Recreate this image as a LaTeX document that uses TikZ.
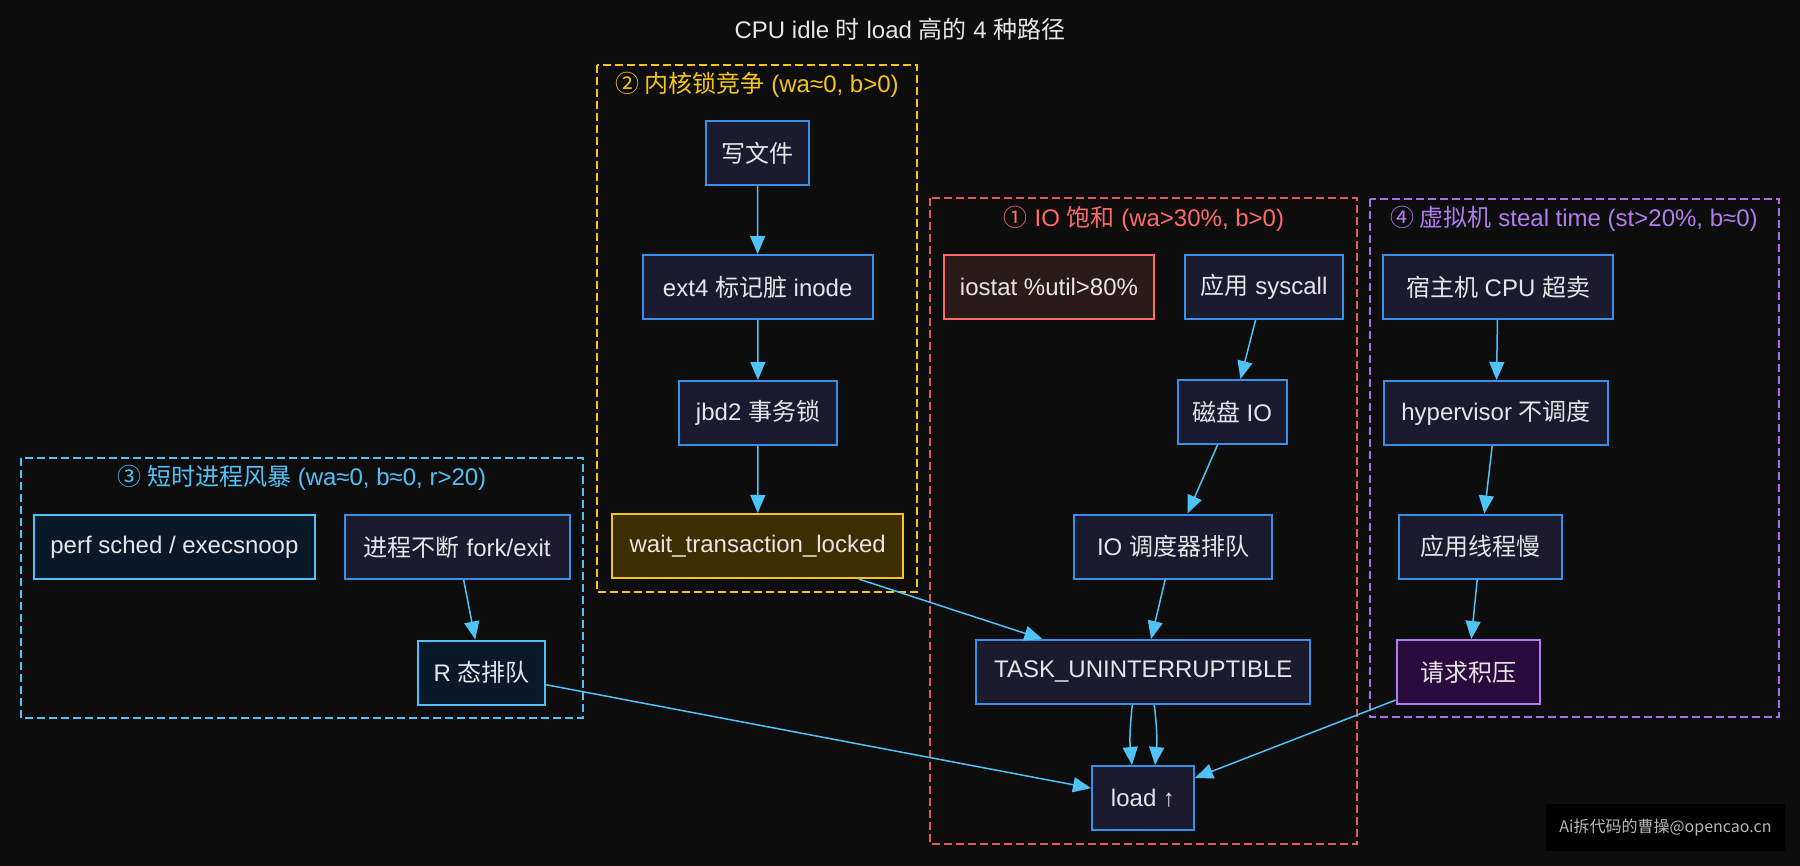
\documentclass[tikz,border=0pt]{standalone}
\usepackage{fontspec}
\setmainfont{Liberation Sans}
\newfontfamily\cjk{Noto Sans CJK SC}
\usetikzlibrary{arrows.meta,calc}
\definecolor{bgc}{HTML}{0D0D0D}
\definecolor{txt}{HTML}{E6E6E6}
\definecolor{nfill}{HTML}{1A1B2E}
\definecolor{nblue}{HTML}{3890EA}
\definecolor{edgec}{HTML}{4FC3F7}
\definecolor{yel}{HTML}{F5C518}
\definecolor{yfill}{HTML}{3D2E00}
\definecolor{redc}{HTML}{E85A5A}
\definecolor{redt}{HTML}{FF6B6B}
\definecolor{rfill}{HTML}{2A1A1A}
\definecolor{purc}{HTML}{A66EE8}
\definecolor{purt}{HTML}{B07CF0}
\definecolor{pfill}{HTML}{2B0A3D}
\definecolor{cyc}{HTML}{4FC3F7}
\definecolor{cfill}{HTML}{0A1929}
\begin{document}
\begin{tikzpicture}[x=0.5pt,y=-0.5pt,
  every node/.style={font=\fontsize{12pt}{14pt}\selectfont, text=txt},
  box/.style={draw=nblue, fill=nfill, line width=1pt, minimum height=32pt, inner sep=0pt},
  ybox/.style={box, draw=yel, fill=yfill},
  rbox/.style={box, draw=redt, fill=rfill},
  pbox/.style={box, draw=purt, fill=pfill},
  cbox/.style={box, draw=cyc, fill=cfill},
  clus/.style={dashed, dash pattern=on 4pt off 2pt, line width=0.7pt},
  arr/.style={draw=edgec, line width=0.75pt, -{Triangle[length=9pt,width=7.5pt]}},
]
\fill[bgc] (0,0) rectangle (1800,866);
\useasboundingbox (0,0) rectangle (1800,866);

\node (title) at (900,29) {CPU idle {\cjk 时} load {\cjk 高的} 4 {\cjk 种路径}};

% clusters
\draw[clus, draw=yel] (597,65) rectangle (917,592);
\node[text=yel] (l2) at (757,85) {{\cjk ② 内核锁竞争} (wa≈0, b>0)};
\draw[clus, draw=redc] (930,198) rectangle (1357,844);
\node[text=redt] (l1) at (1144,219) {{\cjk ①} IO {\cjk 饱和} (wa>30\%, b>0)};
\draw[clus, draw=purc] (1370,199) rectangle (1779,717);
\node[text=purt] (l4) at (1574,219) {{\cjk ④ 虚拟机} steal time (st>20\%, b≈0)};
\draw[clus, draw=cyc] (21,458) rectangle (583,718);
\node[text=cyc] (l3) at (302,478) {{\cjk ③ 短时进程风暴} (wa≈0, b≈0, r>20)};

% cluster 2
\node[box, minimum width=51.5pt] (wf) at (757.5,153) {\cjk 写文件};
\node[box, minimum width=115pt] (ext) at (757.7,287) {ext4 {\cjk 标记脏} inode};
\node[box, minimum width=79pt] (jbd) at (758,413) {jbd2 {\cjk 事务锁}};
\node[ybox, minimum width=145.5pt] (wait) at (757.7,546) {wait\_transaction\_locked};

% cluster 1
\node[rbox, minimum width=105pt] (iostat) at (1049,287) {iostat \%util>80\%};
\node[box, minimum width=79pt] (sys) at (1264,287) {{\cjk 应用} syscall};
\node[box, minimum width=54.5pt] (disk) at (1232,412) {{\cjk 磁盘} IO};
\node[box, minimum width=99pt] (iosch) at (1173,546.5) {IO {\cjk 调度器排队}};
\node[box, minimum width=167pt] (task) at (1143.3,672) {TASK\_UNINTERRUPTIBLE};
\node[box, minimum width=51pt] (load) at (1143,798) {load ↑};

% cluster 4
\node[box, minimum width=115pt] (host) at (1498,287) {{\cjk 宿主机} CPU {\cjk 超卖}};
\node[box, minimum width=112pt] (hyp) at (1496,413) {hypervisor {\cjk 不调度}};
\node[box, minimum width=81.5pt] (slow) at (1480.5,546.5) {\cjk 应用线程慢};
\node[pbox, minimum width=71.5pt] (req) at (1468,672) {\cjk 请求积压};

% cluster 3
\node[cbox, minimum width=140.5pt] (perf) at (174.4,547) {perf sched / execsnoop};
\node[box, minimum width=112.5pt] (fork) at (457.3,547) {{\cjk 进程不断} fork/exit};
\node[cbox, minimum width=63.5pt] (rq) at (481.6,672.5) {R {\cjk 态排队}};

% watermark
\node[fill=black, minimum width=119.5pt, minimum height=23.5pt, inner sep=0pt,
      font=\cjk\fontsize{8pt}{10pt}\selectfont, text=white!72!black] (wm) at (1665.5,827.5) {Ai拆代码的曹操@opencao.cn};

% edges
\draw[arr] (wf) -- (ext);
\draw[arr] (ext) -- (jbd);
\draw[arr] (jbd) -- (wait);
\draw[arr] (wait) -- (task);
\draw[arr] (sys) -- (disk);
\draw[arr] (disk) -- (iosch);
\draw[arr] (iosch) -- (task);
\draw[arr] ($(task.south)+(-11,0)$) to[bend right=6] ($(load.north)+(-11,0)$);
\draw[arr] ($(task.south)+(11,0)$) to[bend left=6] ($(load.north)+(12,0)$);
\draw[arr] (rq) -- (load);
\draw[arr] (fork) -- (rq);
\draw[arr] (host) -- (hyp);
\draw[arr] (hyp) -- (slow);
\draw[arr] (slow) -- (req);
\draw[arr] (req) -- (load);
\end{tikzpicture}
\end{document}
